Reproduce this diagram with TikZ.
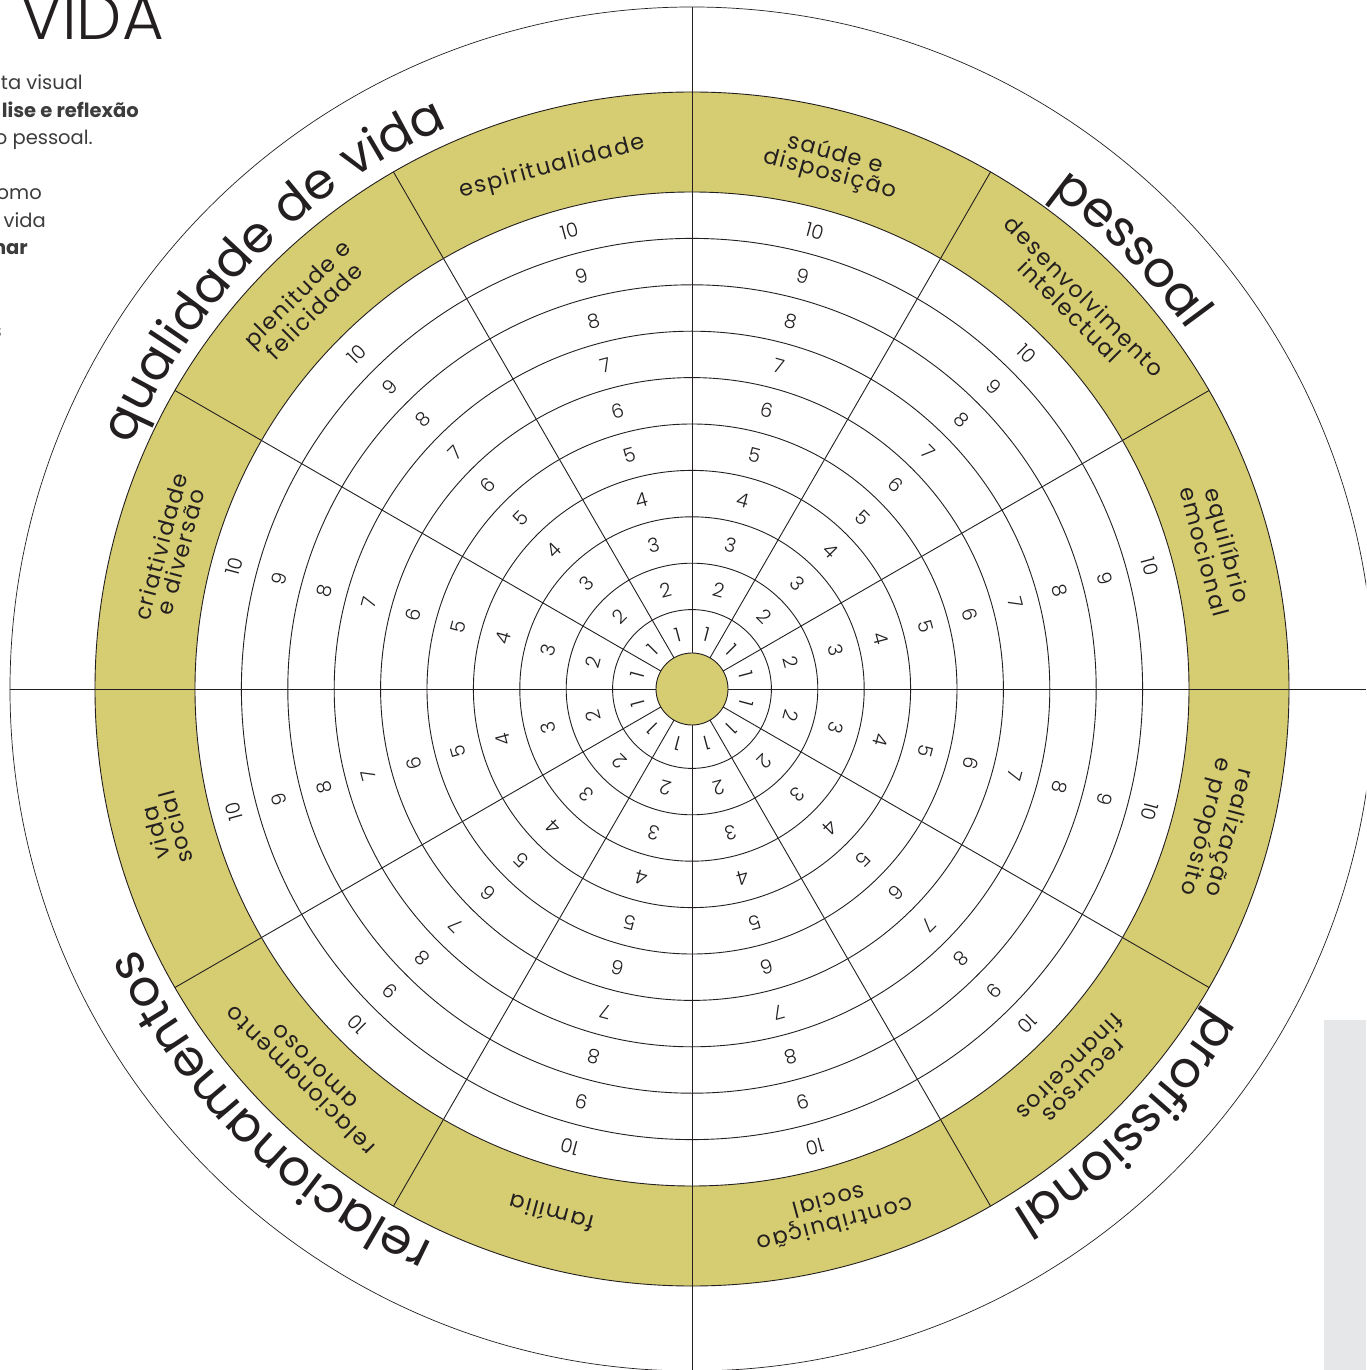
\documentclass[tikz,border=0pt]{standalone}
\usepackage{fontspec}
\setmainfont{Poppins}
\newfontfamily\lightfam{Poppins}[UprightFont=* Light]
\newfontfamily\bandfont{Poppins}[LetterSpace=7]
\newfontfamily\quadfamily{Poppins}[LetterSpace=4]
\usetikzlibrary{decorations.text}
\definecolor{band}{RGB}{214,205,114}
\definecolor{ink}{RGB}{35,31,32}
\definecolor{prose}{RGB}{60,60,60}
\definecolor{greybox}{RGB}{230,231,232}
\newcommand\quadfont{\quadfamily\fontsize{50}{52}\selectfont}
\begin{document}
\begin{tikzpicture}[x=1pt,y=1pt,
  ring/.style={draw=ink, line width=0.9pt},
  outerline/.style={draw=ink, line width=0.7pt},
  num/.style={font=\lightfam\fontsize{19.5}{19.5}\selectfont, text=ink, inner sep=0pt},
  bandlabel/.style={font=\bandfont\fontsize{22.5}{20.5}\selectfont, text=ink, align=center, inner sep=0pt},
  prosetext/.style={font=\fontsize{19.5}{21}\selectfont, text=prose, anchor=base east, inner sep=0pt},
  prosebold/.style={font=\fontsize{19.5}{21}\selectfont\bfseries, text=prose, anchor=base east, inner sep=0pt},
  quadlabel/.style={decorate, decoration={text along path, text align=center, text color=ink}}
]
\useasboundingbox (-692,-681) rectangle (674,689);
\clip (-692,-681) rectangle (674,689);
\fill[white] (-692,-681) rectangle (674,689);
% grey strip at right
\fill[greybox] (632,-681) rectangle (674,-331);
% outer circle
\draw[outerline] (0,0) circle[radius=682];
% band
\fill[band, even odd rule] (0,0) circle[radius=597] (0,0) circle[radius=497];
\draw[ring] (0,0) circle[radius=597];
\foreach \k in {1,...,10}{
  \pgfmathsetmacro\rr{33+46.4*\k}
  \draw[ring] (0,0) circle[radius=\rr];
}
% dividers
\foreach \a in {30,60,120,150,210,240,300,330}
  \draw[ring] (\a:36) -- (\a:597);
\draw[ring] (-682,0) -- (674,0);
\draw[ring] (0,-681) -- (0,682);
% centre disc
\fill[band, draw=ink, line width=0.9pt] (0,0) circle[radius=36];
% numbers
\foreach \s in {0,...,11}{
  \pgfmathsetmacro\th{15+30*\s}
  \foreach \k in {1,...,10}{
    \pgfmathsetmacro\rr{33+46.4*(\k-0.5)}
    \node[num, rotate=\th-90] (n-\s-\k) at (\th:\rr) {\k};
  }
}
% band labels
\node[bandlabel, rotate=-15]  (l1)  at (75:543)  {saúde e\\disposição};
\node[bandlabel, rotate=-45]  (l2)  at (45:545)  {desenvolvimento\\intelectual};
\node[bandlabel, rotate=-75]  (l3)  at (15:543)  {equilíbrio\\emocional};
\node[bandlabel, rotate=-105] (l4)  at (-15:543) {realização\\e propósito};
\node[bandlabel, rotate=-135] (l5)  at (-45:543) {recursos\\financeiros};
\node[bandlabel, rotate=-165] (l6)  at (-75:543) {contribuição\\social};
\node[bandlabel, rotate=165]  (l7)  at (-105:543) {família};
\node[bandlabel, rotate=135]  (l8)  at (-135:545) {relacionamento\\amoroso};
\node[bandlabel, rotate=105]  (l9)  at (-165:545) {vida\\social};
\node[bandlabel, rotate=75]   (l10) at (165:540) {criatividade\\e diversão};
\node[bandlabel, rotate=45]   (l11) at (135:547) {plenitude e\\felicidade};
\node[bandlabel, rotate=15]   (l12) at (105:540) {espiritualidade};
% quadrant labels along the outer ring
\path[quadlabel, decoration={text={|\quadfont|qualidade de vida}}]
  (180:612) arc[start angle=180, end angle=90, radius=612];
\path[quadlabel, decoration={text={|\quadfont|pessoal}}]
  (90:612) arc[start angle=90, end angle=0, radius=612];
\path[quadlabel, decoration={text={|\quadfont|profissional}}]
  (0:612) arc[start angle=0, end angle=-90, radius=612];
\path[quadlabel, decoration={text={|\quadfont|relacionamentos}}]
  (-90:612) arc[start angle=-90, end angle=-180, radius=612];
% partial heading and prose at top left
\node[font=\lightfam\fontsize{64}{64}\selectfont, text=ink, anchor=base east, inner sep=0pt] (head) at (-528,649) {VIDA};
\node[prosetext] (p1) at (-609,599) {ta visual};
\node[prosebold] (p2) at (-553,571.5) {lise e reflexão};
\node[prosetext] (p3) at (-599,544) {o pessoal.};
\node[prosetext] (p4) at (-650,489) {omo};
\node[prosetext] (p5) at (-646,461.5) {vida};
\node[prosebold] (p6) at (-664,434) {nar};
\node[prosetext] (p7) at (-690,351.5) {s};
\end{tikzpicture}
\end{document}
